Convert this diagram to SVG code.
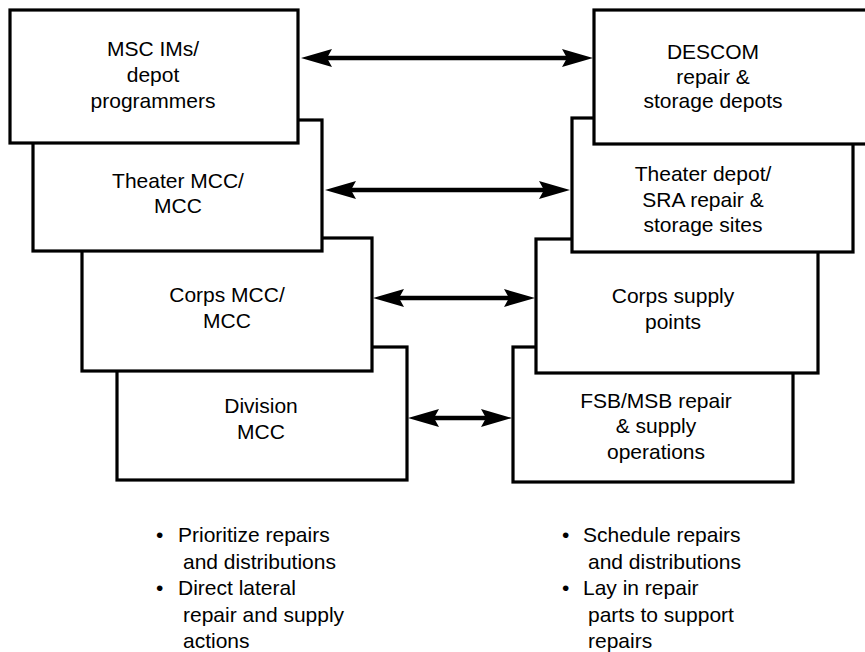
<svg xmlns="http://www.w3.org/2000/svg" width="865" height="652" viewBox="0 0 865 652">
  <style>
    .box { fill: #ffffff; stroke: #000000; stroke-width: 3.2; }
    .lbl { font-family: "Liberation Sans", Arial, Helvetica, sans-serif; font-size: 21px; fill: #000000; text-anchor: middle; }
    .note { font-family: "Liberation Sans", Arial, Helvetica, sans-serif; font-size: 21px; fill: #000000; }
    .arrow { stroke: #000000; stroke-width: 4.5; fill: none; marker-start: url(#head); marker-end: url(#head); }
  </style>
  <defs>
    <marker id="head" viewBox="0 0 31 18" markerWidth="31" markerHeight="18" refX="11" refY="9" markerUnits="userSpaceOnUse" orient="auto-start-reverse">
      <path d="M31,9 L0,0 L5,9 L0,18 Z" fill="#000000"/>
    </marker>
  </defs>
  <rect width="865" height="652" fill="#ffffff"/>

  <g id="division-mcc">
    <rect class="box" x="117" y="347" width="290" height="133"/>
    <text class="lbl" x="261" y="413">Division</text>
    <text class="lbl" x="261" y="439">MCC</text>
  </g>
  <g id="corps-mcc">
    <rect class="box" x="82" y="238" width="290" height="133"/>
    <text class="lbl" x="227" y="302">Corps MCC/</text>
    <text class="lbl" x="227" y="328">MCC</text>
  </g>
  <g id="theater-mcc">
    <rect class="box" x="33" y="120" width="289" height="131"/>
    <text class="lbl" x="178" y="188">Theater MCC/</text>
    <text class="lbl" x="178" y="213">MCC</text>
  </g>
  <g id="msc-ims">
    <rect class="box" x="10" y="10" width="288" height="133"/>
    <text class="lbl" x="153" y="56">MSC IMs/</text>
    <text class="lbl" x="153" y="82">depot</text>
    <text class="lbl" x="153" y="108">programmers</text>
  </g>

  <g id="fsb-msb">
    <rect class="box" x="513" y="347" width="280" height="135"/>
    <text class="lbl" x="656" y="408">FSB/MSB repair</text>
    <text class="lbl" x="656" y="433">&amp; supply</text>
    <text class="lbl" x="656" y="459">operations</text>
  </g>
  <g id="corps-supply">
    <rect class="box" x="536" y="239" width="282" height="134"/>
    <text class="lbl" x="673" y="303">Corps supply</text>
    <text class="lbl" x="673" y="329">points</text>
  </g>
  <g id="theater-depot">
    <rect class="box" x="572" y="118" width="281" height="134"/>
    <text class="lbl" x="703" y="181">Theater depot/</text>
    <text class="lbl" x="703" y="207">SRA repair &amp;</text>
    <text class="lbl" x="703" y="232">storage sites</text>
  </g>
  <g id="descom">
    <rect class="box" x="594" y="10" width="290" height="134"/>
    <text class="lbl" x="713" y="59">DESCOM</text>
    <text class="lbl" x="713" y="84">repair &amp;</text>
    <text class="lbl" x="713" y="108">storage depots</text>
  </g>

  <g id="connectors">
    <line class="arrow" x1="321" y1="58" x2="573" y2="58"/>
    <line class="arrow" x1="345" y1="190" x2="550" y2="190"/>
    <line class="arrow" x1="393" y1="298" x2="515" y2="298"/>
    <line class="arrow" x1="428" y1="418" x2="492" y2="418"/>
  </g>

  <g id="left-notes">
    <text class="note" x="156" y="542">•</text>
    <text class="note" x="178" y="542">Prioritize repairs</text>
    <text class="note" x="183" y="568.5">and distributions</text>
    <text class="note" x="156" y="595">•</text>
    <text class="note" x="178" y="595">Direct lateral</text>
    <text class="note" x="183" y="621.5">repair and supply</text>
    <text class="note" x="183" y="648">actions</text>
  </g>
  <g id="right-notes">
    <text class="note" x="562" y="542">•</text>
    <text class="note" x="583" y="542">Schedule repairs</text>
    <text class="note" x="588" y="568.5">and distributions</text>
    <text class="note" x="562" y="595">•</text>
    <text class="note" x="583" y="595">Lay in repair</text>
    <text class="note" x="588" y="621.5">parts to support</text>
    <text class="note" x="588" y="648">repairs</text>
  </g>
</svg>
